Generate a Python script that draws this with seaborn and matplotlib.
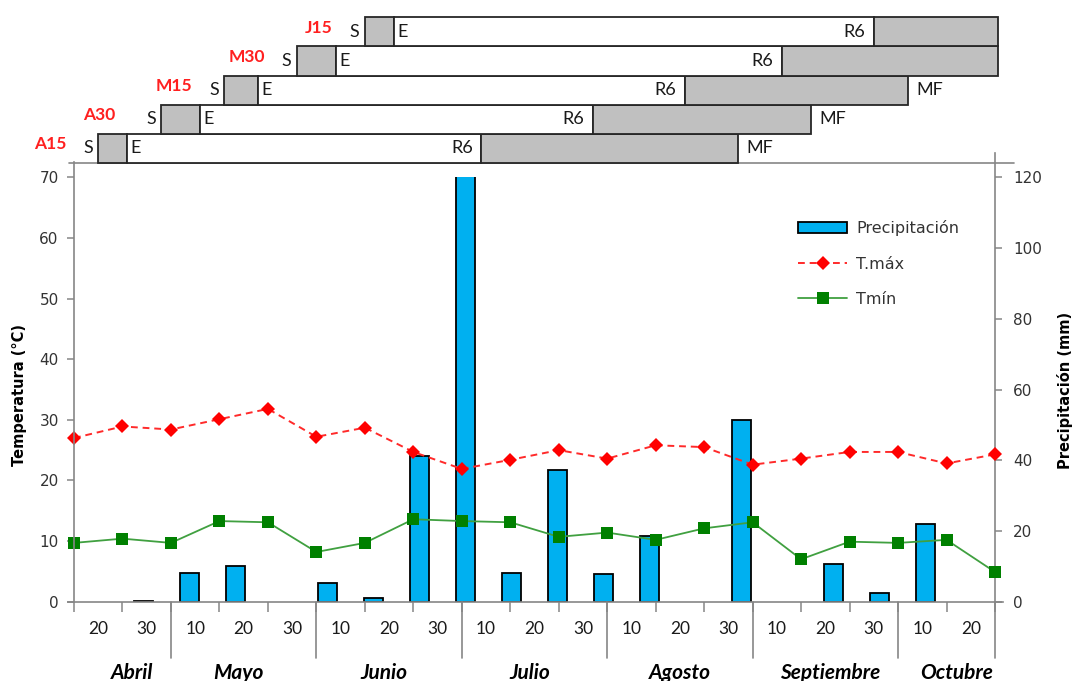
import numpy as np
import pandas as pd
import matplotlib
matplotlib.use("Agg")
import matplotlib.pyplot as plt
import matplotlib.transforms as mtransforms
from matplotlib.lines import Line2D
from matplotlib.patches import Patch
import seaborn as sns

# ---------------------------------------------------------------------------
# Data: ten-day climate records (days counted from 10 April) and
# phenology of five sowing dates.
# ---------------------------------------------------------------------------
period_day = [0, 10, 20, 30, 40, 50, 60, 70, 80, 90,
              100, 110, 120, 130, 140, 150, 160, 170, 180, 190]
tmax = [27.0, 28.9, 28.4, 30.1, 31.8, 27.2, 28.7, 24.7, 21.9, 23.4,
        25.0, 23.6, 25.8, 25.5, 22.6, 23.6, 24.7, 24.7, 22.8, 24.3]
tmin = [9.7, 10.4, 9.7, 13.3, 13.1, 8.2, 9.7, 13.6, 13.3, 13.1,
        10.7, 11.4, 10.2, 12.1, 13.1, 7.0, 9.9, 9.7, 10.2, 4.9]
precip = [0.0, 0.3, 8.1, 10.2, 0.0, 5.2, 1.0, 41.3, 128.0, 8.0,
          37.2, 7.8, 18.6, 0.0, 51.4, 0.0, 10.7, 2.6, 21.9, 0.0]

dekad_labels = ["20", "30", "10", "20", "30", "10", "20", "30", "10", "20",
                "30", "10", "20", "30", "10", "20", "30", "10", "20"]
months = ["Abril", "Mayo", "Junio", "Julio", "Agosto", "Septiembre", "Octubre"]
month_bounds = [20, 50, 80, 110, 140, 170, 190]
month_centers = [12, 34, 64, 94, 125, 156, 182]

plantings = ["A15", "A30", "M15", "M30", "J15"]
sowing = [5, 18, 31, 46, 60]
emergence = [11, 26, 38, 54, 66]
r6_stage = [84, 107, 126, 146, 165]
maturity = [137, 152, 172, None, None]   # None: not reached by season end

# horizontal offset (points) of each sowing-date tag from its bar
tag_offset = [-23, -33, -23, -23, -23]

# ---------------------------------------------------------------------------
sns.set_theme(style="white")
plt.rcParams["font.family"] = ["DejaVu Sans"]

W, H = 1076, 681
fig = plt.figure(figsize=(W / 100, H / 100), dpi=100)

AX_L, AX_R, AX_B, AX_T = 74, 995, 601.7, 177.3
ax_p = fig.add_axes([AX_L / W, 1 - AX_B / H, (AX_R - AX_L) / W, (AX_B - AX_T) / H])
ax_t = ax_p.twinx()

x_end = period_day[-1]
n_bars = len(precip)
bar_x = (np.arange(n_bars) + 0.5) * x_end / n_bars

grey = "#868686"
blue = "#00B0F0"

# precipitation bars (right axis)
dfp = pd.DataFrame({"x": bar_x, "mm": precip})
dfp = dfp[dfp["mm"] > 0]
sns.barplot(data=dfp, x="x", y="mm", ax=ax_p, native_scale=True, width=0.41,
            color=blue, saturation=1, edgecolor="black", linewidth=1.3,
            errorbar=None)

# temperature lines (left axis)
dft = pd.DataFrame({"x": period_day, "tmax": tmax, "tmin": tmin})
sns.lineplot(data=dft, x="x", y="tmax", ax=ax_t, color="#FF2A2A",
             linestyle=(0, (3.5, 2.5)), linewidth=1.4, marker="D",
             markersize=7.5, markerfacecolor="#FF0000",
             markeredgecolor="#FF0000", markeredgewidth=0, clip_on=False)
sns.lineplot(data=dft, x="x", y="tmin", ax=ax_t, color="#40A040",
             linewidth=1.3, marker="s", markersize=8,
             markerfacecolor="#008000", markeredgecolor="#008000",
             markeredgewidth=0, clip_on=False)

for a in (ax_p, ax_t):
    a.set_xlim(0, x_end)
    a.set_xlabel("")
    a.set_ylabel("")
    a.patch.set_visible(False)
    for s in a.spines.values():
        s.set_visible(False)

ax_p.set_ylim(0, 120)
ax_t.set_ylim(0, 70)

# axis positions: temperature on the left, precipitation on the right
ax_t.yaxis.tick_left()
ax_p.yaxis.tick_right()
ax_p.yaxis.set_label_position("right")

ax_t.set_yticks(range(0, 71, 10))
ax_p.set_yticks(range(0, 121, 20))

ax_t.spines["left"].set_visible(True)
ax_t.spines["left"].set_bounds(0, 72.5)
ax_p.spines["right"].set_visible(True)
ax_p.spines["right"].set_bounds(0, 127)
ax_p.spines["bottom"].set_visible(True)
ax_p.spines["bottom"].set_bounds(-1.2, 191.7)
for s in (ax_t.spines["left"], ax_p.spines["right"], ax_p.spines["bottom"]):
    s.set_color(grey)
    s.set_linewidth(1.2)

tick_kw = dict(direction="out", length=5, width=1.1, color=grey,
               labelsize=11, labelcolor="#333333")
ax_t.tick_params(axis="y", which="major", left=True, right=False, pad=6, **tick_kw)
ax_p.tick_params(axis="y", which="major", right=True, left=False, pad=8, **tick_kw)
ax_t.tick_params(axis="x", which="both", bottom=False, labelbottom=False)

# x axis: ten-day ticks, labels between ticks
ax_p.set_xticks(period_day)
ax_p.set_xticklabels([])
ax_p.set_xticks([d + 5 for d in period_day[:-1]], minor=True)
ax_p.set_xticklabels(dekad_labels, minor=True, family="Lato", fontsize=12.5,
                     color="#1a1a1a")
ax_p.tick_params(axis="x", which="major", direction="out", length=7,
                 width=1.1, color=grey, bottom=True)
ax_p.tick_params(axis="x", which="minor", length=0, pad=14, bottom=True)

# month separators and names
trans = mtransforms.blended_transform_factory(ax_p.transData, ax_p.transAxes)
sep_depth = -(658 - AX_B) / (AX_B - AX_T)
for b in month_bounds:
    ax_p.plot([b, b], [0, sep_depth], transform=trans, color=grey, lw=1.2,
              clip_on=False)
name_y = -(673 - AX_B) / (AX_B - AX_T)
for m, c in zip(months, month_centers):
    ax_p.text(c, name_y, m, transform=trans, ha="center", va="center",
              family="Lato", fontsize=15, fontweight="bold", style="italic",
              color="black")

# axis titles
fig.text(20 / W, 1 - 395 / H, "Temperatura (°C)", rotation=90, ha="center",
         va="center", fontsize=10.5, fontweight="bold", color="black")
fig.text(1065 / W, 1 - 390 / H, "Precipitación (mm)", rotation=90,
         ha="center", va="center", fontsize=10.5, fontweight="bold",
         color="black")

# legend
handles = [
    Patch(facecolor=blue, edgecolor="black", linewidth=1.3),
    Line2D([], [], color="#FF2A2A", linestyle=(0, (3.5, 2.5)), lw=1.4,
           marker="D", markersize=7.5, markerfacecolor="#FF0000",
           markeredgewidth=0),
    Line2D([], [], color="#40A040", lw=1.3, marker="s", markersize=8,
           markerfacecolor="#008000", markeredgewidth=0),
]
fig.legend(handles, ["Precipitación", "T.máx", "Tmín"], loc="upper left",
           bbox_to_anchor=(791.5 / W, 1 - 214 / H), frameon=False,
           fontsize=11.5, handlelength=3.1, handletextpad=0.55,
           labelspacing=1.27, borderaxespad=0, borderpad=0.4,
           labelcolor="#333333")

# ---------------------------------------------------------------------------
# Phenology bars above the chart
# ---------------------------------------------------------------------------
G_B, G_T = 163, 17.3
ax_g = fig.add_axes([AX_L / W, 1 - G_B / H, (AX_R - AX_L) / W, (G_B - G_T) / H])
ax_g.set_xlim(0, x_end)
ax_g.set_ylim(0, len(plantings))
ax_g.set_axis_off()

season_end = 190.7
ax_g.plot([-1.0, 194.0], [0, 0], color=grey, lw=1.2, clip_on=False, zorder=1)

box_kw = dict(height=1, align="edge", edgecolor="#262626", linewidth=1.3,
              clip_on=False, zorder=2)
txt = "#1a1a1a"
for i, name in enumerate(plantings):
    s, e, r6, mf = sowing[i], emergence[i], r6_stage[i], maturity[i]
    end = mf if mf is not None else season_end
    ax_g.barh(i, e - s, left=s, color="#C0C0C0", **box_kw)
    ax_g.barh(i, r6 - e, left=e, color="white", **box_kw)
    ax_g.barh(i, end - r6, left=r6, color="#C0C0C0", **box_kw)
    yc = i + 0.5
    ax_g.annotate(name, (s, yc), xytext=(tag_offset[i], 3),
                  textcoords="offset points", ha="right", va="center",
                  family="Lato", fontsize=12.5, fontweight="bold",
                  color="#FF2020", annotation_clip=False)
    ax_g.annotate("S", (s, yc), xytext=(-7.5, 0), textcoords="offset points",
                  ha="center", va="center", family="Lato", fontsize=13,
                  color=txt, annotation_clip=False)
    ax_g.annotate("E", (e, yc), xytext=(2.5, 0), textcoords="offset points",
                  ha="left", va="center", family="Lato", fontsize=13,
                  color=txt, annotation_clip=False)
    ax_g.annotate("R6", (r6, yc), xytext=(-6, 0), textcoords="offset points",
                  ha="right", va="center", family="Lato", fontsize=13,
                  color=txt, annotation_clip=False)
    if mf is not None:
        ax_g.annotate("MF", (mf, yc), xytext=(6, 0), textcoords="offset points",
                      ha="left", va="center", family="Lato", fontsize=13,
                      color=txt, annotation_clip=False)

fig.savefig("out.png", dpi=100)
